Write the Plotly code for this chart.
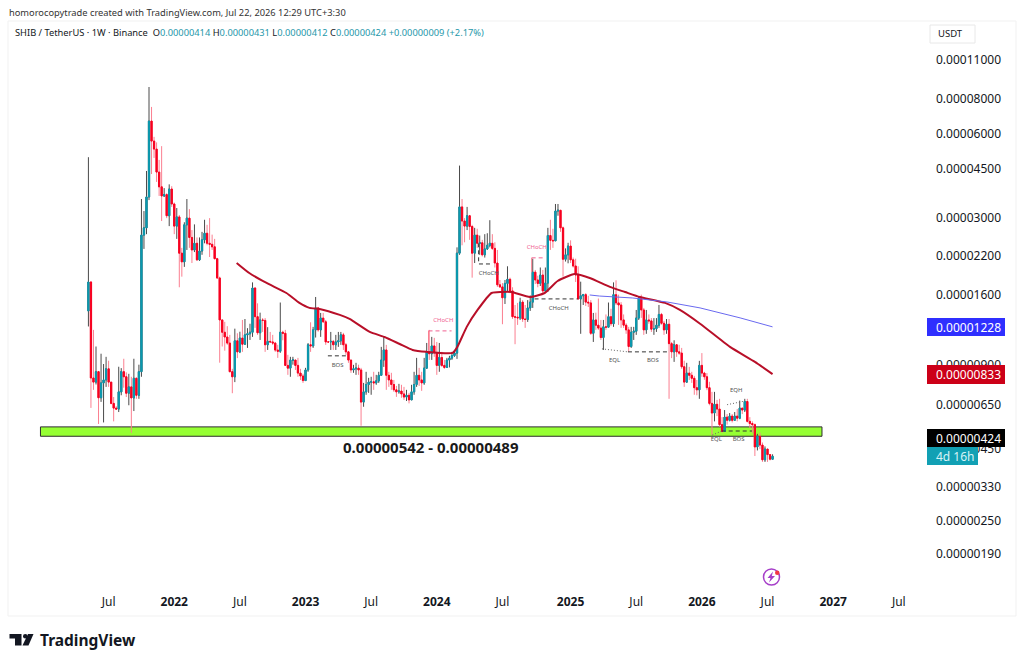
import math
import pandas as pd
import plotly.graph_objects as go

# prices are in units of 0.00000001 usdt
first_open = 1400
close = [
    1775, 807, 780, 850, 686, 775, 794, 870, 780, 655,
    630, 625, 720, 850, 815, 712, 750, 685, 805, 700,
    850, 2610, 2770, 3570, 6660, 5650, 5290, 4380, 3880, 3600,
    3640, 3060, 3810, 3370, 2810, 3030, 2250, 2095, 2840, 3000,
    2560, 2310, 2440, 2130, 2290, 2510, 2650, 2440, 2420, 2370,
    2150, 1835, 1300, 1175, 1130, 1075, 850, 815, 1095, 1000,
    1120, 1065, 1150, 1160, 1175, 1690, 1335, 1170, 1300, 1295,
    1060, 1090, 1085, 1075, 1015, 1005, 1175, 1165, 895, 875,
    935, 935, 895, 840, 820, 790, 862, 1060, 1050, 1198,
    1435, 1198, 1320, 1280, 1085, 1085, 1090, 1060, 1085, 1095,
    1150, 1060, 1000, 935, 862, 870, 875, 862, 662, 720,
    765, 780, 782, 775, 788, 825, 935, 1016, 825, 794,
    765, 732, 720, 725, 708, 690, 700, 674, 720, 765,
    825, 794, 775, 875, 1000, 985, 1050, 992, 895, 955,
    895, 880, 935, 950, 970, 990, 2250, 3290, 2930, 2810,
    3060, 2800, 2250, 2610, 2440, 2450, 2220, 2330, 2400, 2440,
    2340, 2075, 1735, 1705, 1560, 1755, 1815, 1650, 1335, 1330,
    1322, 1505, 1310, 1305, 1435, 1505, 1925, 1805, 1755, 1880,
    1650, 1760, 2600, 2500, 2490, 3180, 3200, 2770, 2140, 2220,
    2385, 2130, 2025, 1880, 1545, 1585, 1600, 1505, 1495, 1165,
    1300, 1245, 1216, 1125, 1228, 1225, 1335, 1260, 1600, 1495,
    1470, 1300, 1245, 1198, 1045, 1175, 1185, 1320, 1555, 1411,
    1198, 1300, 1290, 1205, 1210, 1245, 1360, 1265, 1198, 1255,
    1070, 1000, 1060, 1000, 990, 885, 780, 840, 825, 805,
    745, 732, 895, 840, 815, 745, 655, 605, 650, 625,
    550, 520, 585, 570, 590, 570, 590, 580, 630, 620,
    665, 565, 555, 550, 458, 500, 465, 412, 450, 430,
    414, 424,
]
high = [
    4950, 1790, 1198, 1045, 855, 985, 905, 960, 930, 780,
    690, 640, 885, 875, 945, 845, 835, 815, 945, 810,
    900, 3510, 3180, 4420, 8810, 7480, 5850, 5590, 4840, 5420,
    3840, 3680, 3960, 3900, 3410, 3260, 3080, 2350, 2900, 3510,
    3230, 2720, 2850, 2560, 2560, 2680, 2960, 2840, 3000, 2620,
    2530, 2165, 1855, 1300, 1280, 1235, 1150, 870, 1210, 1165,
    1180, 1300, 1310, 1215, 1260, 1770, 1700, 1490, 1380, 1320,
    1320, 1225, 1178, 1150, 1085, 1060, 1500, 1190, 1198, 976,
    960, 960, 936, 952, 870, 835, 877, 1075, 1275, 1228,
    1570, 1446, 1377, 1377, 1300, 1090, 1178, 1103, 1150, 1178,
    1178, 1169, 1076, 1008, 936, 899, 914, 900, 877, 775,
    849, 808, 815, 849, 828, 849, 1042, 1131, 1059, 849,
    842, 794, 756, 769, 763, 750, 732, 714, 763, 849,
    952, 877, 849, 952, 1076, 1198, 1131, 1122, 1085, 1076,
    1000, 936, 952, 968, 1000, 1016, 2360, 4620, 3510, 3000,
    3290, 3080, 2840, 2770, 2750, 2600, 2510, 2630, 2650, 2950,
    2630, 2460, 2310, 1805, 1760, 1805, 2020, 1840, 1700, 1470,
    1495, 1560, 1530, 1470, 1530, 1590, 2150, 1960, 1870, 2000,
    1960, 2000, 2770, 2960, 2750, 3370, 3370, 3180, 2800, 2340,
    2450, 2500, 2170, 2150, 2020, 1780, 1610, 1620, 1585, 1530,
    1377, 1380, 1550, 1300, 1300, 1360, 1500, 1425, 1770, 1800,
    1600, 1505, 1360, 1265, 1228, 1228, 1228, 1411, 1570, 1600,
    1435, 1411, 1360, 1320, 1320, 1320, 1470, 1377, 1290, 1310,
    1310, 1085, 1100, 1065, 1060, 1033, 930, 914, 884, 849,
    821, 794, 929, 990, 849, 840, 782, 720, 720, 674,
    680, 585, 620, 600, 605, 600, 610, 625, 670, 630,
    680, 680, 585, 565, 555, 510, 515, 475, 460, 445,
    425, 431,
]
low = [
    1232, 631, 732, 765, 553, 663, 560, 750, 750, 650,
    565, 621, 610, 700, 745, 690, 645, 514, 615, 680,
    680, 815, 2330, 2630, 3480, 4310, 4920, 4040, 3600, 2930,
    3570, 3000, 2810, 3290, 2630, 2530, 1700, 1855, 2010, 2310,
    2350, 2075, 2270, 2110, 2110, 2220, 2440, 2400, 2180, 2310,
    2140, 1820, 915, 1045, 1010, 1060, 845, 712, 780, 950,
    990, 1000, 1060, 1033, 1103, 1131, 1218, 1150, 1103, 1178,
    1000, 1016, 1076, 1059, 1000, 952, 992, 1100, 890, 828,
    815, 900, 862, 815, 794, 775, 801, 849, 1000, 1033,
    1125, 1180, 1131, 1270, 1059, 1076, 1016, 1016, 1016, 1042,
    1059, 1016, 976, 914, 842, 842, 828, 828, 545, 637,
    703, 714, 703, 732, 763, 775, 828, 884, 732, 750,
    732, 720, 691, 709, 686, 674, 668, 655, 680, 703,
    750, 756, 726, 763, 870, 936, 936, 960, 828, 849,
    884, 870, 877, 880, 936, 960, 944, 2220, 2400, 2460,
    2720, 2510, 1840, 2075, 2350, 2220, 2190, 2170, 2310, 2360,
    2310, 2000, 1705, 1690, 1255, 1482, 1650, 1620, 1311, 1065,
    1248, 1300, 1279, 1218, 1279, 1400, 1435, 1746, 1700, 1718,
    1620, 1623, 1636, 2311, 2350, 2560, 3060, 2680, 1855, 2100,
    2070, 2075, 2000, 1775, 1532, 1160, 1470, 1458, 1446, 1150,
    1085, 1198, 1198, 1103, 1016, 1198, 1228, 1238, 1228, 1470,
    1248, 1218, 1218, 1160, 1000, 1033, 1103, 1150, 1300, 1322,
    1150, 1160, 1260, 1178, 1150, 1178, 1218, 1250, 1150, 1160,
    680, 950, 921, 960, 976, 870, 750, 775, 794, 775,
    703, 700, 680, 815, 795, 730, 645, 505, 565, 590,
    540, 515, 520, 550, 565, 560, 572, 565, 575, 600,
    610, 560, 535, 515, 425, 445, 450, 405, 405, 405,
    410, 412,
]

ma_red_dates = [
    "2022-06-25", "2022-07-30", "2022-09-16", "2022-11-10", "2022-12-16", "2023-01-13",
    "2023-02-10", "2023-04-07", "2023-05-04", "2023-06-29", "2023-08-09", "2023-09-20",
    "2023-10-26", "2023-12-04", "2024-02-14", "2024-02-27", "2024-03-24", "2024-04-23",
    "2024-06-01", "2024-06-28", "2024-07-26", "2024-09-15", "2024-10-26", "2024-12-01",
    "2025-01-17", "2025-02-28", "2025-04-25", "2025-06-06", "2025-07-17", "2025-09-25",
    "2025-11-05", "2025-12-31", "2026-03-24", "2026-06-01", "2026-07-20",
]
ma_red = [
    2076, 1911, 1761, 1622, 1495, 1435,
    1423, 1355, 1311, 1178, 1130, 1067,
    1016, 1000, 992, 1042, 1228, 1411,
    1622, 1635, 1635, 1570, 1622, 1790,
    1895, 1835, 1705, 1635, 1570, 1495,
    1411, 1260, 1042, 921, 833,
]
ma_blue_dates = ["2025-02-28", "2025-03-27", "2025-06-27", "2025-09-30", "2025-12-31", "2026-04-21", "2026-07-20"]
ma_blue = [1596, 1582, 1557, 1507, 1435, 1322, 1228]

price_ticks = [11000, 8000, 6000, 4500, 3000, 2200, 1600, 900, 650, 450, 330, 250, 190]
time_ticks = ["2021-07-05", "2022-01-03", "2022-07-04", "2023-01-02", "2023-07-03", "2024-01-01", "2024-07-01",
              "2025-01-06", "2025-07-07", "2026-01-05", "2026-07-06", "2027-01-04", "2027-07-05"]
time_labels = ["Jul", "<b>2022</b>", "Jul", "<b>2023</b>", "Jul", "<b>2024</b>", "Jul",
               "<b>2025</b>", "Jul", "<b>2026</b>", "Jul", "<b>2027</b>", "Jul"]

# hand drawn structure lines on the chart
dash_black_x = ["2024-04-26", "2024-04-26", "2024-06-04", None, "2024-09-28", "2025-01-26", None,
                "2023-03-05", "2023-04-26", None, "2025-06-14", "2025-10-08", None, "2026-03-01", "2026-05-24"]
dash_black_y = [2440, 2059, 2059, None, 1545, 1545, None, 968, 968, None, 1000, 1000, None, 522, 522]
dash_pink_x = ["2023-12-09", "2024-02-11", None, "2024-09-20", "2024-10-26"]
dash_pink_y = [1188, 1188, None, 2165, 2165]
dot_x = ["2025-04-03", "2025-06-14", None, "2026-03-16", "2026-05-05", None, "2026-02-03", "2026-03-01"]
dot_y = [1025, 1000, None, 648, 668, None, 505, 522]

label_x = ["2024-05-24", "2024-12-04", "2023-04-01", "2025-05-08", "2025-08-22", "2026-04-10", "2026-02-14", "2026-04-17"]
label_y = [1910, 1423, 891, 929, 929, 726, 485, 485]
label_text = ["CHoCH", "CHoCH", "BOS", "EQL", "BOS", "EQH", "EQL", "BOS"]
pink_label_x = ["2024-01-19", "2024-10-04"]
pink_label_y = [1290, 2350]

UNIT = 1e-8
W, H = 1024, 664
TEAL = "#0a9ab0"
RED = "#f7011f"


def scale(values):
    return [None if v is None else v * UNIT for v in values]


def px(x):
    return x / W


def py(y):
    return 1 - y / H


weeks = pd.date_range("2021-05-10", periods=len(close), freq="7D")
opens = [first_open] + close[:-1]
body_top = [max(o, c) for o, c in zip(opens, close)]
body_bottom = [min(o, c) for o, c in zip(opens, close)]
high = [max(h, t) for h, t in zip(high, body_top)]
low = [min(l, b) for l, b in zip(low, body_bottom)]

fig = go.Figure()
# wicks first, then the bodies on top so they can have another colour
fig.add_trace(go.Candlestick(
    x=weeks, open=scale(opens), high=scale(high), low=scale(low), close=scale(close),
    increasing=dict(line=dict(color="#4a4a4a", width=1), fillcolor=TEAL),
    decreasing=dict(line=dict(color="#fb7f90", width=1), fillcolor=RED),
    whiskerwidth=0, showlegend=False, hoverinfo="skip",
))
fig.add_trace(go.Candlestick(
    x=weeks, open=scale(opens), high=scale(body_top), low=scale(body_bottom), close=scale(close),
    increasing=dict(line=dict(color=TEAL, width=1), fillcolor=TEAL),
    decreasing=dict(line=dict(color=RED, width=1), fillcolor=RED),
    whiskerwidth=0, showlegend=False, hoverinfo="skip",
))
fig.add_trace(go.Scatter(x=ma_red_dates, y=scale(ma_red), mode="lines",
                         line=dict(color="#b80f28", width=2, shape="spline", smoothing=0.5),
                         showlegend=False, hoverinfo="skip"))
fig.add_trace(go.Scatter(x=ma_blue_dates, y=scale(ma_blue), mode="lines",
                         line=dict(color="#6a6af0", width=1), showlegend=False, hoverinfo="skip"))
fig.add_trace(go.Scatter(x=dash_black_x, y=scale(dash_black_y), mode="lines", connectgaps=False,
                         line=dict(color="#333333", width=1, dash="4px,3px"), showlegend=False, hoverinfo="skip"))
fig.add_trace(go.Scatter(x=dash_pink_x, y=scale(dash_pink_y), mode="lines", connectgaps=False,
                         line=dict(color="#f06292", width=1, dash="4px,3px"), showlegend=False, hoverinfo="skip"))
fig.add_trace(go.Scatter(x=["2023-12-09", "2023-12-09", None, "2024-09-20", "2024-09-20"],
                         y=scale([1188, 1008, None, 2165, 1925]), mode="lines", connectgaps=False,
                         line=dict(color="#fb7f90", width=1), showlegend=False, hoverinfo="skip"))
fig.add_trace(go.Scatter(x=dot_x, y=scale(dot_y), mode="lines", connectgaps=False,
                         line=dict(color="#666666", width=1, dash="1px,2px"), showlegend=False, hoverinfo="skip"))
fig.add_trace(go.Scatter(x=label_x, y=scale(label_y), mode="text", text=label_text, textposition="middle center",
                         textfont=dict(family="Noto Sans", size=6, color="#555555"), showlegend=False, hoverinfo="skip"))
fig.add_trace(go.Scatter(x=pink_label_x, y=scale(pink_label_y), mode="text", text=["CHoCH", "CHoCH"],
                         textposition="middle center", textfont=dict(family="Noto Sans", size=6, color="#f06292"),
                         showlegend=False, hoverinfo="skip"))

shapes = [
    dict(type="rect", xref="paper", yref="paper", x0=px(8), x1=px(1016), y0=py(616), y1=py(21),
         line=dict(color="#f1f1f1", width=1), layer="below"),
    # support zone
    dict(type="rect", xref="x", yref="y", x0="2020-12-28", x1="2026-12-04", y0=540 * UNIT, y1=500 * UNIT,
         fillcolor="#96ff33", line=dict(color="#2d2d2d", width=1), layer="below"),
    # price scale tags
    dict(type="rect", xref="paper", yref="paper", x0=px(930), x1=px(975), y0=py(43), y1=py(25),
         line=dict(color="#e8e8e8", width=1), fillcolor="white"),
    dict(type="rect", xref="paper", yref="paper", x0=px(927), x1=px(1005), y0=py(336), y1=py(318),
         line=dict(width=0), fillcolor="#2f2fff"),
    dict(type="rect", xref="paper", yref="paper", x0=px(927), x1=px(1005), y0=py(384), y1=py(365),
         line=dict(width=0), fillcolor="#cc0018"),
    dict(type="rect", xref="paper", yref="paper", x0=px(927), x1=px(1005), y0=py(447), y1=py(429),
         line=dict(width=0), fillcolor="#000000"),
    dict(type="rect", xref="paper", yref="paper", x0=px(927), x1=px(978), y0=py(465), y1=py(447),
         line=dict(width=0), fillcolor="#12a0b4"),
    # publish icon
    dict(type="circle", xref="paper", yref="paper", x0=px(763.5), x1=px(779.5), y0=py(585), y1=py(569),
         line=dict(color="#a63fc9", width=1.5)),
    dict(type="path", xref="paper", yref="paper", line=dict(width=0), fillcolor="#a63fc9",
         path=f"M {px(773)} {py(571.5)} L {px(767.5)} {py(578)} L {px(770.5)} {py(578)} L {px(769)} {py(582.5)} "
              f"L {px(775)} {py(576)} L {px(771.8)} {py(576)} Z"),
    dict(type="circle", xref="paper", yref="paper", x0=px(775), x1=px(779.5), y0=py(575), y1=py(570.5),
         line=dict(width=0), fillcolor="#f23645"),
    # logo
    dict(type="path", xref="paper", yref="paper", line=dict(width=0), fillcolor="#131722",
         path=f"M {px(9.5)} {py(634)} L {px(21.5)} {py(634)} L {px(21.5)} {py(645.5)} L {px(15)} {py(645.5)} "
              f"L {px(15)} {py(638.5)} L {px(9.5)} {py(638.5)} Z"),
    dict(type="circle", xref="paper", yref="paper", x0=px(23), x1=px(27.5), y0=py(638.5), y1=py(634),
         line=dict(width=0), fillcolor="#131722"),
    dict(type="path", xref="paper", yref="paper", line=dict(width=0), fillcolor="#131722",
         path=f"M {px(28)} {py(634)} L {px(33.5)} {py(634)} L {px(28.5)} {py(645.5)} L {px(22.5)} {py(645.5)} Z"),
]

TXT = "#131722"
G = '<span style="color:#1f98aa">'
ohlc = (f'SHIB / TetherUS · 1W · Binance  O{G}0.00000414</span> H{G}0.00000431</span> '
        f'L{G}0.00000412</span> C{G}0.00000424</span> {G}+0.00000009 (+2.17%)</span>')


def note(x, y, text, size=10, color=TXT, anchor="left", family="Noto Sans"):
    return dict(xref="paper", yref="paper", x=px(x), y=py(y), text=text, showarrow=False, xanchor=anchor,
                yanchor="middle", font=dict(family=family, size=size, color=color), borderpad=0)


annotations = [
    note(8, 12, "homorocopytrade created with TradingView.com, Jul 22, 2026 12:29 UTC+3:30", size=9.3, color="#333333"),
    note(14, 33, ohlc, size=9.3),
    note(937, 34, "USDT", size=9.5),
    note(935, 327, "0.00001228", size=12, color="white"),
    note(935, 374.5, "0.00000833", size=12, color="white"),
    note(935, 438, "0.00000424", size=12, color="white"),
    note(935, 456, "4d 16h", size=12, color="#d8f3f7"),
    note(431, 447, "<b>0.00000542 - 0.00000489</b>", size=15, color="#1a1a1a", anchor="center"),
    note(39, 640, "<b>TradingView</b>", size=15.5, color="#131722"),
]

fig.update_layout(
    width=W, height=H, margin=dict(l=0, r=0, t=0, b=0), autosize=False,
    paper_bgcolor="white", plot_bgcolor="white", showlegend=False,
    font=dict(family="Noto Sans", size=12, color=TXT),
    shapes=shapes, annotations=annotations, dragmode=False,
    xaxis=dict(
        type="date", domain=[px(8), px(928)], range=["2020-09-29", "2027-09-24"],
        rangeslider=dict(visible=False), showgrid=False, zeroline=False, showline=False,
        tickmode="array", tickvals=time_ticks, ticktext=time_labels, ticks="",
        ticklabelstandoff=3, tickfont=dict(family="Noto Sans", size=12, color=TXT),
    ),
    yaxis=dict(
        type="log", side="right", domain=[py(590), py(21)], range=[-5.8496, -3.8195],
        anchor="x", showgrid=False, zeroline=False, showline=False,
        tickmode="array", tickvals=scale(price_ticks), ticktext=[f"{p * UNIT:.8f}" for p in price_ticks],
        ticks="", ticklabelstandoff=7, tickfont=dict(family="Noto Sans", size=12, color=TXT),
    ),
)

print(len(close), len(high), len(low))
fig.write_html("out.html", config=dict(displayModeBar=False),
               post_script="document.body.style.margin='0';document.documentElement.style.overflow='hidden';")
